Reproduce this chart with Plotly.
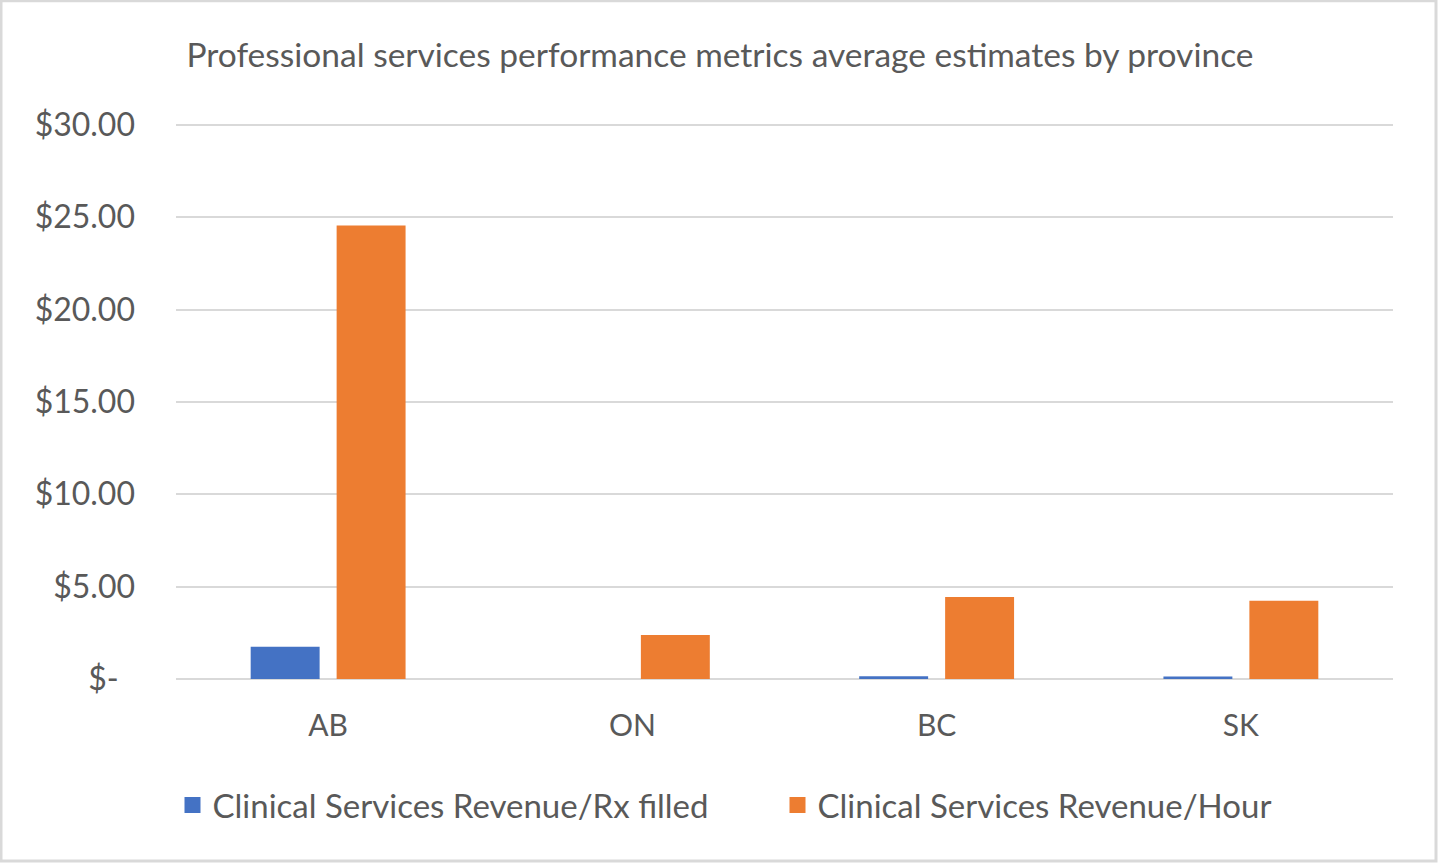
import plotly.graph_objects as go

provinces = ["AB", "ON", "BC", "SK"]
rev_per_rx = [1.75, 0.0, 0.15, 0.14]
rev_per_hour = [24.55, 2.38, 4.44, 4.24]
series_names = ["Clinical Services Revenue/Rx filled", "Clinical Services Revenue/Hour"]
colors = ["#4472C4", "#ED7D31"]
tick_vals = [0, 5, 10, 15, 20, 25, 30]
tick_text = ["$-\u00a0\u00a0", "$5.00", "$10.00", "$15.00", "$20.00", "$25.00", "$30.00"]
title_text = "Professional services performance metrics average estimates by province"

FONT = "Lato, Noto Sans, sans-serif"
GRAY = "#595959"

fig = go.Figure()
for name, vals, c in zip(series_names, [rev_per_rx, rev_per_hour], colors):
    fig.add_trace(go.Bar(x=provinces, y=vals, name=name, marker_color=c,
                         marker_line_width=0, showlegend=False))
    fig.add_trace(go.Scatter(x=[None], y=[None], mode="markers", name=name,
                             marker=dict(symbol="square", size=16, color=c)))

W, H = 1440, 865
YMAX = 30.15
L, R, B = 176, 47, 186
ph = 554 * YMAX / 30
T = H - B - ph
pw = W - L - R

fig.update_layout(
    width=W, height=H,
    margin=dict(l=L, r=R, t=T, b=B, autoexpand=False),
    paper_bgcolor="white", plot_bgcolor="white",
    barmode="group", bargap=0.435, bargroupgap=0.198,
    font=dict(family=FONT, color=GRAY, size=30),
    title=dict(text=title_text, x=0.5, xanchor="center", xref="container",
               y=1 - 55 / H, yanchor="middle", yref="container",
               font=dict(size=33.5, color=GRAY, family=FONT)),
    legend=dict(orientation="h", x=0.5 - 7 / pw, xanchor="center", y=(T + ph - 805) / ph,
                yanchor="middle", font=dict(size=33, color=GRAY),
                entrywidth=560, traceorder="normal", bgcolor="rgba(0,0,0,0)"),
    yaxis=dict(range=[0, YMAX], tickvals=tick_vals, ticktext=tick_text,
               showgrid=True, gridcolor="#D9D9D9", gridwidth=2,
               zeroline=True, zerolinecolor="#D9D9D9", zerolinewidth=2,
               showline=False, ticks="", ticklabelstandoff=40,
               tickfont=dict(size=32, color=GRAY, family=FONT)),
    xaxis=dict(showgrid=False, showline=False, ticks="", ticklabelstandoff=26,
               tickfont=dict(size=30, color=GRAY, family=FONT)),
    shapes=[dict(type="rect", xref="paper", yref="paper",
                 x0=(1 - L) / pw, x1=(1436 - L) / pw,
                 y0=(T + ph - 861) / ph, y1=(T + ph - 1) / ph,
                 line=dict(color="#D9D9D9", width=3), layer="below")],
)

fig.write_html("out.html", config={"displayModeBar": False},
               post_script="document.body.style.margin='0';")
